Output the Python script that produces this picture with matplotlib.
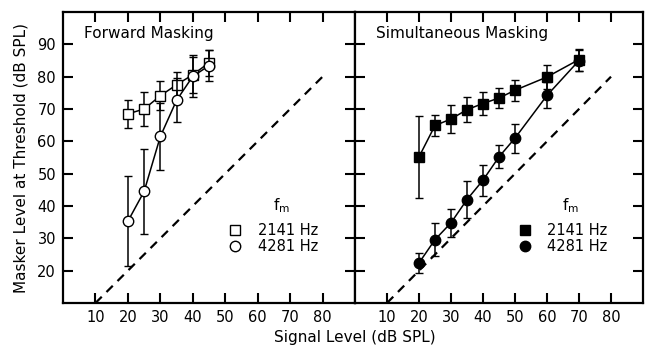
import matplotlib
matplotlib.use("Agg")
import matplotlib.pyplot as plt
from matplotlib.lines import Line2D

# signal levels (dB SPL)
fwd_x = [20, 25, 30, 35, 40, 45]
sim_x = [20, 25, 30, 35, 40, 45, 50, 60, 70]

# forward masking
fwd_2141 = [68.5, 70.0, 74.1, 77.5, 80.6, 84.3]
fwd_2141_err = [4.4, 5.2, 4.5, 4.0, 5.5, 4.0]
fwd_4281 = [35.3, 44.5, 61.5, 72.7, 80.1, 83.4]
fwd_4281_err = [14.0, 13.2, 10.3, 6.8, 6.5, 4.8]

# simultaneous masking
sim_2141 = [55.2, 64.9, 66.9, 69.8, 71.7, 73.4, 75.8, 79.9, 85.3]
sim_2141_err = [12.7, 3.1, 4.2, 3.9, 3.5, 3.0, 3.2, 3.6, 3.4]
sim_4281 = [22.4, 29.6, 34.8, 42.0, 48.0, 55.2, 61.0, 74.2, 85.0]
sim_4281_err = [3.1, 5.1, 4.3, 5.6, 4.8, 3.6, 4.5, 4.0, 3.4]

legend_labels = ["2141 Hz", "4281 Hz"]
xticks = [10, 20, 30, 40, 50, 60, 70, 80]
yticks = [20, 30, 40, 50, 60, 70, 80, 90]

plt.rcParams["font.family"] = ["DejaVu Sans"]
fig = plt.figure(figsize=(6.45, 3.48), dpi=100)
ax1 = fig.add_axes([0.0977, 0.1293, 0.4527, 0.8362])
ax2 = fig.add_axes([0.5504, 0.1293, 0.4465, 0.8362])


def panel(ax, x, sq, sq_err, ci, ci_err, filled, title):
    fc = "black" if filled else "white"
    ax.plot([10, 80], [10, 80], color="black", lw=1.6, ls=(0, (4, 3)))
    ax.errorbar(x, sq, yerr=sq_err, color="black", lw=1.1, capsize=3,
                marker="s", ms=7, mfc=fc, mec="black", mew=1.0, zorder=3)
    ax.errorbar(x, ci, yerr=ci_err, color="black", lw=1.1, capsize=3,
                marker="o", ms=7.5, mfc=fc, mec="black", mew=1.0, zorder=4)
    ax.set_xlim(0, 90)
    ax.set_ylim(10, 100)
    ax.set_xticks(xticks)
    ax.set_yticks(yticks)
    ax.tick_params(direction="in", length=7, width=1.5, top=True, right=True,
                   labelsize=10.5, pad=5)
    for s in ax.spines.values():
        s.set_linewidth(1.6)
    ax.text(6.6, 93.5, title, fontsize=11, va="center", ha="left")
    # legend drawn by hand
    ax.text(67.5, 40, "f$_{\\rm m}$", fontsize=11, ha="center", va="center")
    for i, (m, lab) in enumerate(zip(["s", "o"], legend_labels)):
        yy = 32.5 - 5 * i
        ax.add_line(Line2D([53], [yy], marker=m, ms=7.5 if m == "o" else 7,
                           mfc=fc, mec="black", mew=1.0, ls="none"))
        ax.text(60, yy, lab, fontsize=10.5, va="center", ha="left")


panel(ax1, fwd_x, fwd_2141, fwd_2141_err, fwd_4281, fwd_4281_err, False, "Forward Masking")
panel(ax2, sim_x, sim_2141, sim_2141_err, sim_4281, sim_4281_err, True, "Simultaneous Masking")
ax2.tick_params(labelleft=False)

ax1.set_ylabel("Masker Level at Threshold (dB SPL)", fontsize=11, labelpad=6)
fig.text(0.55, 0.008, "Signal Level (dB SPL)", fontsize=11, ha="center", va="bottom")

fig.savefig("out.png", dpi=100)
